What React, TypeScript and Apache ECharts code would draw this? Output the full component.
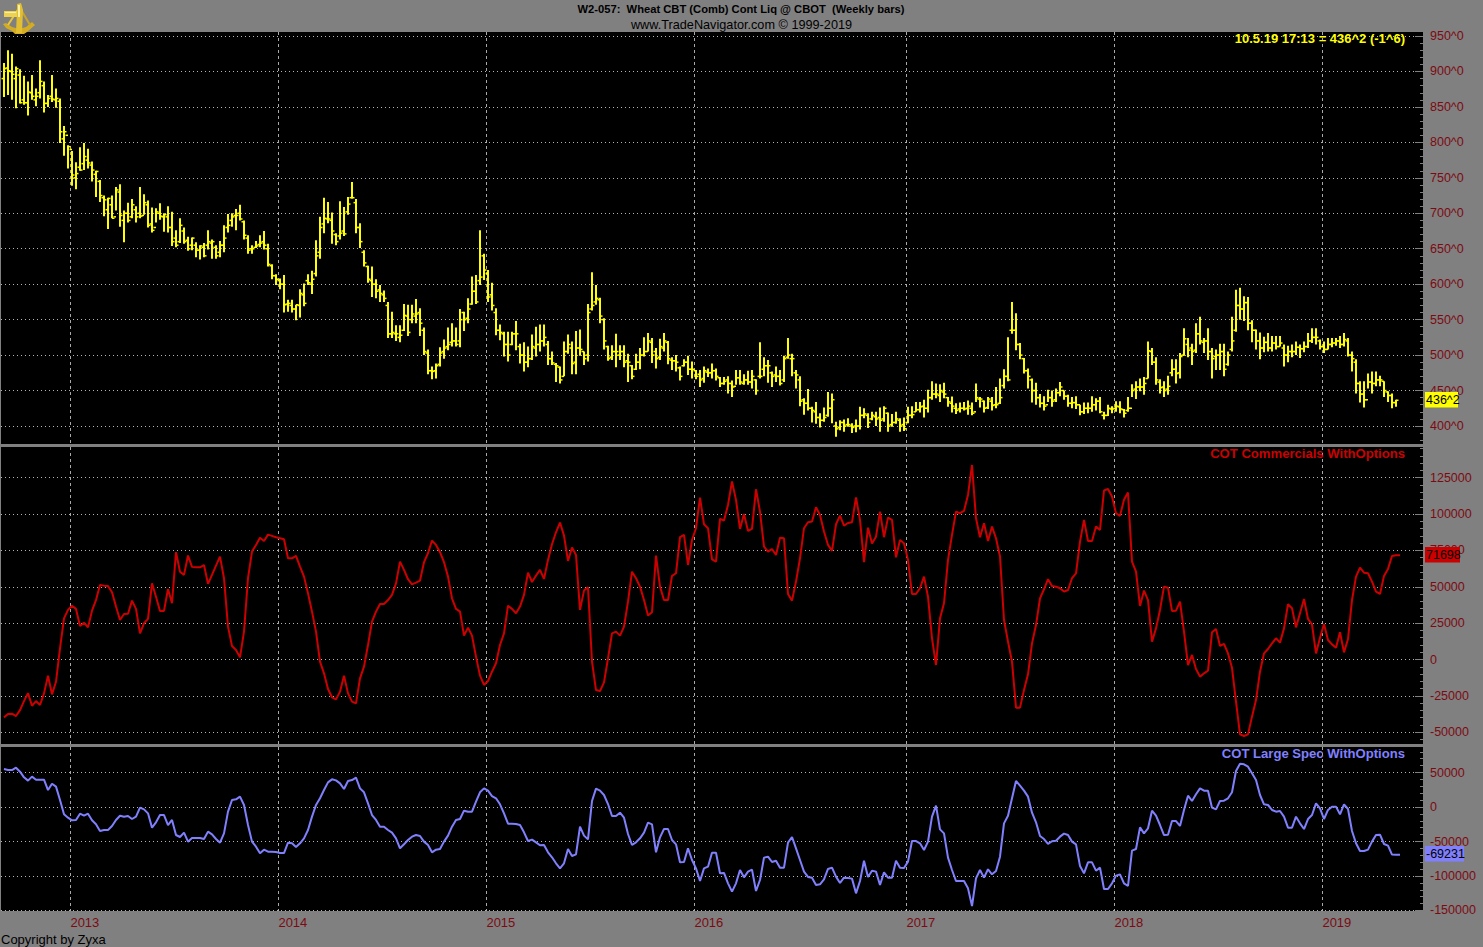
import React, { useEffect, useRef } from "react";
import * as echarts from "echarts";

const highs = [
912,930,925,907,903,894,886,895,876,916,886,867,895,876,862,823,796,788,772,793,799,791,773,760,747,725,722,725,737,741,
704,715,720,710,737,727,718,708,707,714,700,710,702,676,693,680,667,666,659,655,658,676,663,655,661,683,699,700,706,712,
690,669,655,661,669,675,657,628,614,608,613,578,578,571,593,601,614,619,662,695,722,716,701,672,717,709,723,744,720,686,
648,626,625,607,599,591,575,561,542,542,572,571,571,579,566,539,508,484,488,511,522,539,545,539,565,561,580,611,613,676,
643,620,602,566,543,533,533,533,548,516,518,512,529,540,543,543,520,505,489,484,519,529,519,534,536,505,572,617,599,581,
552,513,514,530,514,514,502,486,502,510,525,531,524,510,523,531,520,497,500,484,494,499,491,479,479,484,481,488,481,469,
469,470,464,479,479,473,478,479,466,518,497,493,477,484,479,499,524,502,479,470,439,452,427,434,418,426,448,446,406,408,
409,411,404,409,427,425,418,420,420,426,428,419,417,420,411,412,427,428,434,434,437,451,463,460,459,461,441,441.5,432,433,
434,436,433,460,441,436,441,441,455,467,480,525,575,559,517,496,481,467,461,445,442,451,450,453,462,450,444,441,442,430,
433,433,442,439,441,420,430,428,435,435,424,441,459,463,467,469,519,510,497,466,463,471,494,494,503,538,524,516,545,554,
524,538,510,508,516,516,505,554,592,595,583,582,549,536,532,526,531,527,527,527,515,513,515,519,515,519,531,538,538,522,
519,524,524,524,527,531,524,505,494,463,463,474,477,477,471,463,449,446,437];

const lows = [
864,867,860,848,855,853,838,860,851,862,842,850,857,849,799,781,763,739,734,760,761,763,745,723,716,696,678,693,704,681,
659,687,693,687,693,698,680,673,687,691,674,673,654,652,658,657,647,648,638,635,638,649,636,636,638,645,673,681,676,690,
663,643,643,651,652,649,625,607,599,593,560,561,560,549,553,569,599,586,611,636,672,686,657,655,663,668,698,721,672,651,
625,602,582,580,575,575,524,524,520,518,534,527,545,545,527,500,473,466,467,484,495,507,512,512,511,534,545,571,572,599,
606,575,563,528,521,498,491,514,507,488,477,483,493,498,505,512,486,486,462,460,470,502,473,473,499,486,491,563,571,545,
508,492,493,483,493,483,462,466,479,480,498,505,489,481,493,505,487,479,477,464,484,472,467,466,455,461,469,467,464,455,
458,446,441,458,458,458,458,453,444,467,470,461,455,462,457,462,495,470,453,428,416,422,405,403,398,406,413,404,385,394,
392,399,390,391,395,411,397,408,400,392,406,392,399,403,392,393,404,411,420,419,412,419,437,439,434,439,427,419,417,419,
422,416,415,434,426,419,424,422,425,431,453,463,530,507,494,474,453,433,430,426,422,434,427,434,442,437,427,425,424,415,
417,418,420,422,418,409,414,418,420,418,412,420,441,438,449,444,467,486,458,446,441,444,470,460,467,499,497,486,503,515,
503,493,467,479,479,470,485,505,533,550,548,535,518,508,494,504,505,505,508,512,484,490,497,500,496,504,510,517,515,508,
503,508,511,513,510,512,498,477,446,433,426,453,446,456,456,441,434,425,427];

const closes = [
904,901,896,904,856,856,871,865,865,886,855,862,861,862,815,815,794,754,756,761,780,771,761,759,725,719,721,693,733,697,
700,690,712,695,696,715,683,676,702,696,698,680,660,655,683,660,650,665,648,654,640,660,660,640,655,665,683,695,697,692,
669,648,650,654,658,655,628,612,607,600,571,573,565,571,587,573,602,607,640,680,693,692,675,660,672,671,713,722,680,660,
630,607,600,590,587,580,530,532,530,528,556,532,558,558,545,505,478,477,485,503,510,515,520,515,550,550,565,590,575,610,
620,582,570,535,532,515,500,530,530,500,490,495,512,515,520,525,495,489,485,465,505,515,488,510,508,495,560,570,580,555,
520,495,505,505,505,490,490,470,490,500,505,520,500,495,512,520,495,492,490,470,490,480,480,470,465,478,475,478,470,460,
463,460,455,468,462,465,462,470,450,470,485,485,470,470,460,495,500,495,472,435,432,425,422,412,408,412,425,437,396,405,
400,402,398,400,415,417,405,415,410,408,425,400,405,410,400,396,415,416,423,427,425,440,445,445,450,445,434,428,422,425,
424,428,418,440,438,425,438,429,430,440,470,465,535,515,500,478,470,450,440,432,428,440,435,447,455,442,432,433,430,420,
425,425,430,435,420,415,425,424,428,424,418,425,450,455,455,460,506,490,465,454,450,456,480,474,498,523,507,505,530,520,
520,505,495,500,505,480,500,520,570,565,574,545,535,520,510,518,510,517,512,517,500,505,505,511,509,512,520,525,525,512,
508,515,517,520,515,522,500,495,460,445,437,462,460,465,465,450,443,433,436.25];

const opens = [
890,905,900,890,895,860,856,870,860,870,880,855,865,860,858,805,810,790,750,765,770,775,768,755,745,722,705,712,695,730,
690,700,695,705,700,697,712,685,680,700,695,695,680,665,660,675,662,655,655,648,652,655,658,652,645,655,680,690,697,700,
688,665,650,652,656,660,650,626,612,605,600,572,570,565,570,585,605,600,615,645,685,692,690,670,668,675,702,722,715,680,
645,625,605,600,592,585,570,530,530,525,535,555,550,555,560,535,503,478,478,487,505,512,518,520,520,560,552,572,590,605,
640,615,585,560,535,530,515,515,530,512,500,490,495,510,515,520,515,495,487,483,470,505,510,490,510,505,500,565,575,578,
550,512,497,505,500,505,492,485,480,490,500,505,518,505,497,510,518,493,492,482,485,490,480,478,473,467,476,475,478,468,
460,465,460,456,468,460,465,462,465,470,480,485,475,472,470,465,497,495,475,465,437,432,425,420,412,408,415,425,400,398,
405,402,400,400,400,415,415,410,413,412,410,418,402,405,408,402,405,415,420,423,428,425,440,445,443,448,440,432,425,424,
425,425,425,420,438,435,426,435,430,432,457,470,535,535,515,495,478,465,450,440,432,430,440,437,447,450,442,432,433,430,
420,425,425,430,435,415,415,424,425,427,423,422,425,452,455,455,467,505,490,462,455,452,475,480,475,500,515,510,507,530,
518,520,505,498,500,505,487,508,535,570,565,574,545,535,520,510,518,510,517,512,510,500,505,505,511,509,512,520,525,520,
512,508,515,517,520,515,520,500,490,460,445,437,462,460,465,463,448,443,433];

const commercials = [
-39800,-37500,-37300,-38900,-34800,-28600,-23100,-31800,-28600,-31300,-23300,-11100,-24000,-15300,7700,28300,34100,37000,34800,23100,
25300,22100,33600,40900,51300,50800,50600,46200,36400,27200,31300,31500,40500,34800,18000,24900,27900,52400,43200,33400,
33400,48500,38700,73800,60400,58200,71500,63700,63400,63400,65000,52000,58200,64600,70800,55900,22600,9300,6500,1500,
19200,55900,74200,78800,83800,81500,85900,85000,84100,83400,82700,69600,69600,71200,63900,57000,45500,32900,19200,-1500,
-9500,-20300,-26000,-27400,-22100,-11100,-23300,-29000,-30200,-13000,-4900,10000,26000,32900,38200,38200,40900,44400,52400,67300,
61600,55200,51700,52900,54300,66900,73100,81800,78800,73800,66900,57000,42100,34800,32900,16400,21900,16400,2000,-11100,
-17500,-14800,-8400,-2600,10000,18000,37000,34800,31800,36400,44400,59700,53300,57700,61600,55400,68500,79300,87500,94200,
85200,67800,77000,71900,34100,47400,49700,-1500,-21000,-21700,-15700,800,18000,19200,16400,22600,39800,60400,55900,50100,
40900,30200,32500,71500,50100,40900,40900,57500,59300,84100,85700,65000,82200,90300,111400,93000,90300,68900,67300,96700,
95600,106300,122400,109800,89800,100100,88400,89800,117100,101700,77600,74200,76000,71900,83800,83400,45100,40500,53600,69600,
90300,94400,94900,104700,99400,88000,78800,74700,93000,99000,92100,93900,94400,111400,96000,66900,90700,79700,84500,101700,
84100,97600,96000,70300,82200,79900,68500,45100,45100,49000,57000,43200,14600,-3800,28300,38700,68500,85700,101700,100600,
102200,113200,133800,97100,84100,93700,81500,91400,83400,70800,27200,12300,-1500,-33100,-33100,-21000,-10200,11100,23700,42100,
48300,55200,50600,50100,49000,46700,47800,55900,59300,81100,96000,81500,81500,91400,89100,116200,117300,112100,100600,98800,
109800,114800,67300,60400,36800,47400,40900,12300,21400,34100,50100,49400,33400,33600,39800,19200,-3800,3100,-6500,-11800,
-9500,-7700,18700,21000,9300,10700,4200,-5700,-29000,-51500,-52600,-51500,-39300,-27900,-8400,4200,7200,11100,14600,11600,
21400,38000,35200,22100,31800,41600,27900,24200,4200,15000,24400,13400,10400,8100,18700,4900,14100,40900,57000,63200,
59700,59300,53600,46700,45100,57500,62300,71200,71698,71698];

const largeSpecs = [
55100,53600,53600,57000,51200,43000,38200,44000,39600,39600,39600,24600,33800,29500,10100,-10600,-15500,-19300,-18800,-9700,
-12600,-9700,-19300,-25100,-34800,-33300,-33300,-27500,-18800,-12600,-14000,-13000,-17400,-14000,-1000,-3400,-9200,-29900,-22200,-11600,
-11600,-26100,-18800,-40600,-43500,-37200,-50200,-44900,-44900,-44900,-46400,-35700,-39600,-46400,-51700,-38200,-6800,10100,11100,15000,
2900,-26100,-50200,-57500,-67100,-61800,-64700,-64700,-65200,-66700,-66700,-51700,-52600,-58000,-52600,-45400,-33300,-14000,2900,12600,
24600,35700,40100,38600,34300,26100,37700,39100,42500,27000,21300,5300,-11600,-18800,-28500,-28500,-33300,-37200,-45400,-59900,
-54100,-47800,-43000,-40600,-42000,-50200,-55100,-65700,-61800,-60900,-50200,-41500,-28500,-18800,-17400,-5300,-6800,-6800,7700,21300,
27000,23700,15900,12600,3900,-9200,-24200,-24200,-24600,-26100,-36700,-49300,-47300,-51200,-55500,-55100,-65700,-72900,-81600,-88900,
-81600,-60900,-71000,-68600,-28500,-41500,-46900,8700,26600,23700,17400,4300,-13000,-13000,-8200,-15500,-39100,-55100,-51200,-45400,
-37200,-22700,-25100,-65700,-44000,-31900,-31900,-47800,-54100,-80200,-79700,-59900,-76800,-88900,-107200,-88900,-86500,-66200,-66200,-96100,
-95600,-110600,-122700,-110600,-91300,-101900,-93700,-90800,-121700,-105800,-73400,-72000,-79700,-77800,-87900,-87900,-51700,-43500,-59900,-76800,
-93700,-101400,-102400,-113000,-112100,-104800,-89800,-87900,-100900,-110100,-102400,-102900,-103800,-125100,-107200,-77800,-101400,-92300,-93700,-113000,
-94700,-102400,-102400,-77800,-87900,-88400,-79200,-49300,-49300,-52600,-62300,-50200,-14000,1900,-32400,-38200,-73400,-91300,-107200,-107200,
-107200,-117900,-143500,-103400,-91300,-102400,-90300,-97600,-92700,-72000,-23700,-12600,12600,37700,30900,23700,15000,-8200,-22200,-42000,
-46400,-53600,-49700,-48800,-43000,-38600,-40600,-50200,-54100,-85500,-96100,-80200,-80200,-92300,-87900,-118800,-118800,-110600,-99500,-97600,
-110600,-114500,-63300,-60900,-29500,-38200,-30900,-5300,-12600,-26100,-40600,-40100,-20300,-20300,-27500,-4300,16400,8700,18400,27000,
23700,23700,-1000,-3400,8700,9200,12600,21300,52200,62800,61800,58400,48800,39100,17400,3900,2900,-4300,-6800,-5800,
-14000,-29900,-29900,-14000,-23700,-31900,-17400,-11600,5300,-1900,-17400,-4300,500,500,-10600,3900,-2900,-34800,-52600,-63800,
-63800,-61800,-50200,-40600,-40100,-53600,-56000,-69000,-69231,-69231];

const yearTicks = [17.6, 69.6, 121.6, 173.6, 226.6, 278.6, 330.6];
const yearLabels = ["2013", "2014", "2015", "2016", "2017", "2018", "2019"];
const priceTicks = [400, 450, 500, 550, 600, 650, 700, 750, 800, 850, 900, 950];
const priceMinorTicks = [380, 390, 410, 420, 430, 440, 460, 470, 480, 490, 510, 520, 530, 540, 560, 570, 580, 590, 610, 620, 630, 640, 660, 670, 680, 690, 710, 720, 730, 740, 760, 770, 780, 790, 810, 820, 830, 840, 860, 870, 880, 890, 910, 920, 930, 940];
const commTicks = [-50000, -25000, 0, 25000, 50000, 75000, 100000, 125000];
const commMinorTicks = [-55000, -45000, -40000, -35000, -30000, -20000, -15000, -10000, -5000, 5000, 10000, 15000, 20000, 30000, 35000, 40000, 45000, 55000, 60000, 65000, 70000, 80000, 85000, 90000, 95000, 105000, 110000, 115000, 120000, 130000, 135000, 140000, 145000];
const specTicks = [-150000, -100000, -50000, 0, 50000];
const specMinorTicks = [-140000, -130000, -120000, -110000, -90000, -80000, -70000, -60000, -40000, -30000, -20000, -10000, 10000, 20000, 30000, 40000, 60000, 70000, 80000];

const FONT = "'Liberation Sans', Arial, sans-serif";
const AXIS_RED = "#7d0a12";
const YELLOW = "#ffff00";
const RED = "#cc0000";
const BLUE = "#8080ff";
const GREY = "#808080";

const barData = highs.map((h, i) => [i + 1, opens[i], h, lows[i], closes[i]]);
const commData = commercials.map((v, i) => [i + 1, v]);
const specData = largeSpecs.map((v, i) => [i + 1, v]);

const mainY = (gridIndex: number, min: number, max: number, ticks: number[], fmt: (v: number) => string) => ({
  type: "value",
  gridIndex,
  position: "right",
  min,
  max,
  axisLine: { show: false },
  axisTick: { show: true, inside: true, length: 8, customValues: ticks, lineStyle: { color: GREY, width: 1 } },
  axisLabel: {
    show: true,
    customValues: ticks,
    formatter: fmt,
    margin: 7,
    color: AXIS_RED,
    fontFamily: FONT,
    fontSize: 12.5,
  },
  splitLine: { show: true, lineStyle: { type: [1, 3], color: "#b4b4b4", width: 1 } },
});

const minorY = (gridIndex: number, min: number, max: number, ticks: number[]) => ({
  type: "value",
  gridIndex,
  position: "right",
  min,
  max,
  axisLine: { show: false },
  axisTick: { show: true, inside: true, length: 3, customValues: ticks, lineStyle: { color: GREY, width: 1 } },
  axisLabel: { show: false },
  splitLine: { show: false },
});

const xAxisFor = (gridIndex: number, labelled: boolean) => ({
  type: "value",
  gridIndex,
  min: 0.25,
  max: 355.75,
  axisLine: { show: false },
  axisTick: { show: false, customValues: yearTicks },
  axisLabel: {
    show: labelled,
    customValues: yearTicks,
    formatter: (v: number) => yearLabels[yearTicks.indexOf(v)] ?? "",
    align: "left",
    margin: 5,
    color: AXIS_RED,
    fontFamily: FONT,
    fontSize: 13,
  },
  splitLine: { show: true, lineStyle: { type: [3, 3], color: "#a8a8a8", width: 1 } },
});

const txt = (x: number, y: number, text: string, fill: string, size: number, align: string, bold = false) => ({
  type: "text",
  x,
  y,
  z: 100,
  style: {
    text,
    fill,
    align,
    verticalAlign: "middle",
    fontFamily: FONT,
    fontSize: size,
    fontWeight: bold ? "bold" : "normal",
  },
});

const tag = (x: number, y: number, w: number, h: number, bg: string, text: string) => [
  { type: "rect", z: 100, shape: { x, y, width: w, height: h }, style: { fill: bg } },
  txt(x + 1, y + h / 2 + 0.5, text, "#000000", 12.5, "left"),
];

const logo = {
  type: "group",
  z: 100,
  children: [
    { type: "polygon", z: 100, shape: { points: [[3, 24], [6, 23], [12, 27], [19, 29], [26, 27], [32, 22], [35, 25], [27, 32], [24, 34], [15, 34], [12, 31], [6, 28]] }, style: { fill: "#d4ac22" } },
    { type: "line", z: 100, shape: { x1: 19, y1: 8, x2: 8, y2: 25 }, style: { stroke: "#e6c63a", lineWidth: 2 } },
    { type: "line", z: 100, shape: { x1: 20, y1: 8, x2: 30, y2: 25 }, style: { stroke: "#c9a326", lineWidth: 2 } },
    { type: "polygon", z: 100, shape: { points: [[17, 4], [21, 3], [23, 10], [22, 33], [16, 33], [17, 10]] }, style: { fill: "#e2bf32" } },
    { type: "rect", z: 100, shape: { x: 4, y: 11, width: 13, height: 6 }, style: { fill: "#ecd250" } },
    { type: "rect", z: 100, shape: { x: 18, y: 5, width: 2, height: 12 }, style: { fill: "#fbf0a0" } },
    { type: "rect", z: 100, shape: { x: 5, y: 12, width: 11, height: 1 }, style: { fill: "#fbf0a0" } },
  ],
};

export default function App() {
  const ref = useRef<HTMLDivElement>(null);

  useEffect(() => {
    const chart = echarts.init(ref.current!, undefined, { renderer: "svg" });
    const renderItem = (_: any, api: any) => {
      const k = api.value(0);
      const [x, yOpen] = api.coord([k, api.value(1)]);
      const yHigh = api.coord([k, api.value(2)])[1];
      const yLow = api.coord([k, api.value(3)])[1];
      const yClose = api.coord([k, api.value(4)])[1];
      const style = { stroke: YELLOW, lineWidth: 2, fill: "none" };
      const tickStyle = { stroke: YELLOW, lineWidth: 1.5, fill: "none" };
      return {
        type: "group",
        children: [
          { type: "line", shape: { x1: x, y1: yHigh, x2: x, y2: yLow }, style },
          { type: "line", shape: { x1: x - 2.5, y1: yOpen, x2: x, y2: yOpen }, style: tickStyle },
          { type: "line", shape: { x1: x, y1: yClose, x2: x + 2.5, y2: yClose }, style: tickStyle },
        ],
      };
    };

    chart.setOption({
      animation: false,
      backgroundColor: GREY,
      textStyle: { fontFamily: FONT },
      grid: [
        { left: 1, top: 32, width: 1422, height: 412, show: true, backgroundColor: "#000000", borderWidth: 0 },
        { left: 1, top: 447, width: 1422, height: 297, show: true, backgroundColor: "#000000", borderWidth: 0 },
        { left: 1, top: 747, width: 1422, height: 164, show: true, backgroundColor: "#000000", borderWidth: 0 },
      ],
      xAxis: [xAxisFor(0, false), xAxisFor(1, false), xAxisFor(2, true)],
      yAxis: [
        mainY(0, 374.6, 955.7, priceTicks, (v) => `${v}^0`),
        minorY(0, 374.6, 955.7, priceMinorTicks),
        mainY(1, -58115, 146148, commTicks, (v) => `${v}`),
        minorY(1, -58115, 146148, commMinorTicks),
        mainY(2, -150725, 86957, specTicks, (v) => `${v}`),
        minorY(2, -150725, 86957, specMinorTicks),
      ],
      series: [
        {
          type: "custom",
          name: "Wheat CBT",
          xAxisIndex: 0,
          yAxisIndex: 0,
          data: barData,
          encode: { x: 0, y: [1, 2, 3, 4] },
          renderItem,
          clip: true,
        },
        {
          type: "line",
          name: "COT Commercials WithOptions",
          xAxisIndex: 1,
          yAxisIndex: 2,
          data: commData,
          showSymbol: false,
          lineStyle: { color: RED, width: 2 },
        },
        {
          type: "line",
          name: "COT Large Spec WithOptions",
          xAxisIndex: 2,
          yAxisIndex: 4,
          data: specData,
          showSymbol: false,
          lineStyle: { color: BLUE, width: 2 },
        },
      ],
      graphic: {
        elements: [
          logo,
          txt(741, 9, "W2-057:  Wheat CBT (Comb) Cont Liq @ CBOT  (Weekly bars)", "#000000", 11.2, "center", true),
          txt(741.5, 24.5, "www.TradeNavigator.com © 1999-2019", "#000000", 12.7, "center"),
          txt(1405, 38.5, "10.5.19 17:13 = 436^2 (-1^6)", YELLOW, 13, "right", true),
          txt(1405, 453.5, "COT Commercials WithOptions", RED, 13.1, "right", true),
          txt(1405, 753.5, "COT Large Spec WithOptions", BLUE, 13.1, "right", true),
          txt(1, 939.5, "Copyright by Zyxa", "#000000", 13, "left"),
          ...tag(1425, 392, 33, 15.5, YELLOW, "436^2"),
          ...tag(1425, 547, 35, 15.5, RED, "71698"),
          ...tag(1425, 846, 39, 15.5, BLUE, "-69231"),
        ],
      },
    });
    return () => chart.dispose();
  }, []);

  return <div ref={ref} style={{ position: "fixed", left: 0, top: 0, width: 1483, height: 947 }} />;
}
